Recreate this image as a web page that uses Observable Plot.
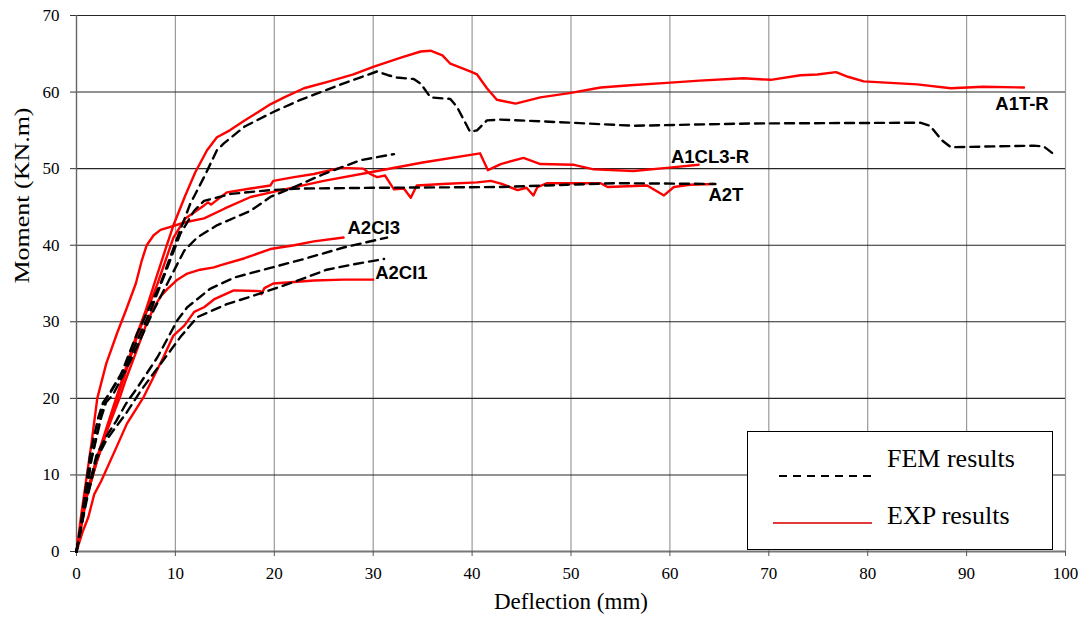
<!DOCTYPE html>
<html>
<head>
<meta charset="utf-8">
<script src="https://cdn.jsdelivr.net/npm/d3@7"></script>
<script src="https://cdn.jsdelivr.net/npm/@observablehq/plot@0.6"></script>
<style>
  html, body { margin: 0; padding: 0; background: #fff; }
  #wrap { position: relative; width: 1085px; height: 619px; }
  #legend {
    position: absolute; left: 747px; top: 431px; width: 304px; height: 117px;
    border: 1.5px solid #000; background: #fff; box-sizing: content-box;
    font-family: "Liberation Serif", "Times New Roman", serif; font-size: 26px; color: #000;
  }
  #legend svg { position: absolute; }
  #legend .lab { position: absolute; left: 139px; line-height: 1; }
</style>
</head>
<body>
<div id="wrap">
  <div id="chart"></div>
  <div id="legend">
    <svg style="left:0;top:0" width="304" height="117">
      <line x1="31" x2="124" y1="44" y2="44" stroke="#000" stroke-width="2.2" stroke-dasharray="8,6"></line>
      <line x1="25" x2="124" y1="91" y2="91" stroke="#e03a3a" stroke-width="2"></line>
    </svg>
    <div class="lab" style="top:14px">FEM results</div>
    <div class="lab" style="top:71px">EXP results</div>
  </div>
</div>
<script>
// ---- tick values ----
const xTicks = [0, 10, 20, 30, 40, 50, 60, 70, 80, 90, 100];
const yTicks = [0, 10, 20, 30, 40, 50, 60, 70];

// ---- Experimental (EXP) curves: [deflection mm, moment kN.m] ----
const expA1TR = [[0,0],[0.5,4],[1,7.5],[2,12],[3,16],[4,20],[5,24],[6,28],[7,31.5],[8,35.5],[9,39.5],[9.8,42.6],[11,46.5],[12,49.5],[13.2,52.4],[14.2,54.1],[15.5,55],[17,56.3],[18.5,57.5],[19.6,58.4],[21,59.3],[23,60.5],[25.3,61.3],[28,62.3],[30,63.3],[32.8,64.5],[34.8,65.3],[35.8,65.4],[37,64.8],[37.8,63.7],[39.8,62.7],[40.5,62.3],[41.5,60.5],[42.5,59],[44.4,58.5],[46.9,59.3],[50,59.9],[53,60.6],[56,60.9],[59.7,61.2],[63,61.5],[67.4,61.8],[70.2,61.6],[73.2,62.2],[74.9,62.3],[76.8,62.6],[78,62],[79.6,61.4],[85,61],[88.4,60.5],[91.7,60.7],[95.8,60.6]];
const expA1CL3R = [[0,0],[0.5,5],[1,9.5],[1.5,14],[2.1,20],[3,24.5],[4.1,28.5],[5,31.5],[6,35],[6.6,38],[7.1,40],[7.8,41.3],[8.5,42],[9.5,42.4],[11,43],[12.9,43.5],[15,44.8],[17.6,46.3],[20,47],[25,48.4],[30,49.6],[35,50.8],[40.8,52.0],[41.6,49.8],[42.9,50.6],[45.2,51.4],[46.9,50.6],[50.3,50.5],[52.3,49.9],[56.3,49.7],[59.7,50.1],[62.9,50.5]];
const expA2T = [[0,0],[0.5,3.5],[1,7],[2,11.5],[3,15.5],[4,19.5],[5,23.5],[6.1,28],[7,31],[8.2,35],[9.8,41],[11,43.5],[12.9,45.2],[13.3,45.6],[13.6,45.3],[15.2,46.9],[17.6,47.4],[19.6,47.8],[19.9,48.4],[22,48.9],[24,49.3],[26.7,50.1],[29,50],[29.7,49.3],[30.4,48.9],[31.2,49.1],[32.1,47.3],[33.1,47.4],[33.8,46.2],[34.4,47.8],[37,48],[40.5,48.2],[41.9,48.4],[43,48],[44.6,47.2],[45.5,47.5],[46.2,46.5],[46.6,47.6],[47.6,48.1],[53,48.1],[53.7,47.6],[57.7,47.8],[59.4,46.5],[60.4,47.6],[62,47.9],[64.4,48.0]];
const expA2CI3 = [[0,0],[0.5,3.5],[1,7],[2,11.5],[3,15.5],[4.4,20.2],[5,22.5],[6.1,26.3],[7,29.5],[7.8,31.8],[8.5,33.3],[9.2,34.3],[10.2,35.5],[11.2,36.3],[12.5,36.8],[13.9,37.1],[14.6,37.4],[17,38.3],[19.6,39.5],[22,40],[24,40.5],[27,41.0]];
const expA2CI1 = [[0,0],[0.6,2.5],[1.2,4.5],[1.8,7.5],[2.5,9.2],[4,13.5],[5.1,16.7],[6.8,20.2],[8.8,25.4],[9.8,28.2],[10.9,29.5],[11.9,31.3],[12.9,31.9],[14,33],[15.9,34.1],[18.6,34],[18.7,33.6],[19,34.4],[19.9,35],[22,35.2],[24,35.4],[27,35.5],[30,35.5]];

// ---- Finite element (FEM) curves ----
const femA1TR = [[0,0],[0.4,3.2],[1.4,12.8],[2.2,17.5],[2.7,19.5],[3.3,20.5],[4.4,22.8],[6.1,28.4],[8.5,35],[10.2,41],[11.5,45.4],[12.9,48.9],[14.2,52.4],[14.9,53.3],[17,55.5],[19.9,57.4],[22.5,58.9],[25.3,60.3],[28,61.6],[30.4,62.7],[31.5,62.2],[32.4,61.9],[34.1,61.7],[34.8,61.1],[35.8,59.3],[37.8,59.1],[38.5,58],[39.8,54.8],[40.5,55],[41.5,56.3],[42.9,56.4],[50,56],[56.3,55.6],[68.2,55.9],[85.3,56.0],[86.3,55.6],[87.5,53.7],[88.4,52.8],[96.8,53.0],[97.8,52.9],[98.7,52.0]];
const femA2T = [[0,0],[0.5,3.5],[1.5,12],[2.5,18],[3,20],[3.5,21],[5.1,24.5],[7.5,31.5],[9.2,37.1],[10.5,41.5],[11.9,44.5],[12.9,45.8],[15.6,46.7],[19.6,47.2],[22.6,47.4],[30,47.5],[42.9,47.6],[49.6,47.9],[54.7,48.1],[64.6,48.0]];
const femA1CL3R = [[0,0],[0.5,3.5],[1.5,12],[2.5,17.5],[3,19.5],[3.7,20.5],[5.5,25],[7.8,31.5],[9.5,35.8],[10.9,39.3],[12.2,41],[14.2,42.6],[17.6,44.5],[19.6,46.3],[22,47.6],[25,49.3],[28.7,51.1],[32.1,51.9]];
const femA2CI3 = [[0,0],[1,7],[2,12.5],[3,15],[4,17],[5,19.3],[6.1,21.3],[8.2,25.4],[10.2,30.2],[11.2,31.9],[13.5,34.3],[16,35.8],[19.5,37],[23,38.2],[27,39.7],[31.4,41.0]];
const femA2CI1 = [[0,0],[1,6.5],[2,12],[3,14.5],[4,16.3],[5,18],[6.5,21],[8.5,24.5],[10.5,28],[12.2,30.6],[15.2,32.3],[18.6,33.7],[22,35.2],[25.3,36.8],[28,37.5],[31.1,38.2]];

// ---- specimen labels ----
const labelNames = ["A1T-R", "A1CL3-R", "A2T", "A2CI3", "A2CI1"];
const labelX = [92.9, 60.1, 63.9, 27.4, 30.2];
const labelY = [58.4, 51.5, 46.6, 42.2, 36.4];

const series = [
  {name: "A1T-R", type: "EXP", pts: expA1TR},
  {name: "A1CL3-R", type: "EXP", pts: expA1CL3R},
  {name: "A2T", type: "EXP", pts: expA2T},
  {name: "A2CI3", type: "EXP", pts: expA2CI3},
  {name: "A2CI1", type: "EXP", pts: expA2CI1},
  {name: "A1T-R", type: "FEM", pts: femA1TR},
  {name: "A2T", type: "FEM", pts: femA2T},
  {name: "A1CL3-R", type: "FEM", pts: femA1CL3R},
  {name: "A2CI3", type: "FEM", pts: femA2CI3},
  {name: "A2CI1", type: "FEM", pts: femA2CI1}
];
const rows = series.flatMap(s => s.pts.map(([x, y]) => ({x, y, key: s.type + " " + s.name, type: s.type})));
const labels = labelNames.map((t, i) => ({t, x: labelX[i], y: labelY[i]}));

const chart = Plot.plot({
  width: 1085,
  height: 619,
  marginLeft: 76,
  marginRight: 20,
  marginTop: 15,
  marginBottom: 68,
  style: {fontFamily: "'Liberation Serif', 'Times New Roman', serif", fontSize: "17px", background: "#fff", color: "#000"},
  x: {domain: [0, 100], label: null},
  y: {domain: [0, 70], label: null},
  marks: [
    Plot.gridX(xTicks, {stroke: "#9a9a9a", strokeOpacity: 1, strokeWidth: 1.2}),
    Plot.gridY(yTicks, {stroke: "#262626", strokeOpacity: 1, strokeWidth: 1.1}),
    Plot.ruleX([0], {stroke: "#666", strokeWidth: 1.3}),
    Plot.ruleY([0], {stroke: "#777", strokeWidth: 2}),
    Plot.axisX(xTicks, {tickSize: 5, tickPadding: 10, fontSize: 17, stroke: "#555", label: null}),
    Plot.axisY(yTicks, {tickSize: 6, tickPadding: 11, fontSize: 17, stroke: "#333", label: null}),
    Plot.line(rows.filter(d => d.type === "EXP"), {x: "x", y: "y", z: "key", stroke: "#ff0000", strokeWidth: 2.4, strokeLinejoin: "round"}),
    Plot.line(rows.filter(d => d.type === "FEM"), {x: "x", y: "y", z: "key", stroke: "#000", strokeWidth: 2.4, strokeDasharray: "9,6"}),
    Plot.text(labels, {x: "x", y: "y", text: "t", textAnchor: "start", fontFamily: "'Liberation Sans', Arial, sans-serif", fontWeight: "bold", fontSize: 18.5, fill: "#000"}),
    Plot.text(["Deflection (mm)"], {frameAnchor: "bottom", dy: 57, fontSize: 23, fill: "#000"}),
    Plot.text(["Moment (KN.m)"], {frameAnchor: "left", dx: -54, rotate: -90, fontSize: 20, fill: "#000"})
  ]
});
// stretch axis titles to the measured lengths of the reference
chart.querySelectorAll("text").forEach(t => {
  if (t.textContent === "Deflection (mm)") { t.setAttribute("textLength", 154); t.setAttribute("lengthAdjust", "spacingAndGlyphs"); }
  if (t.textContent === "Moment (KN.m)") { t.setAttribute("textLength", 176); t.setAttribute("lengthAdjust", "spacingAndGlyphs"); }
});
document.getElementById("chart").appendChild(chart);
</script>
</body>
</html>
